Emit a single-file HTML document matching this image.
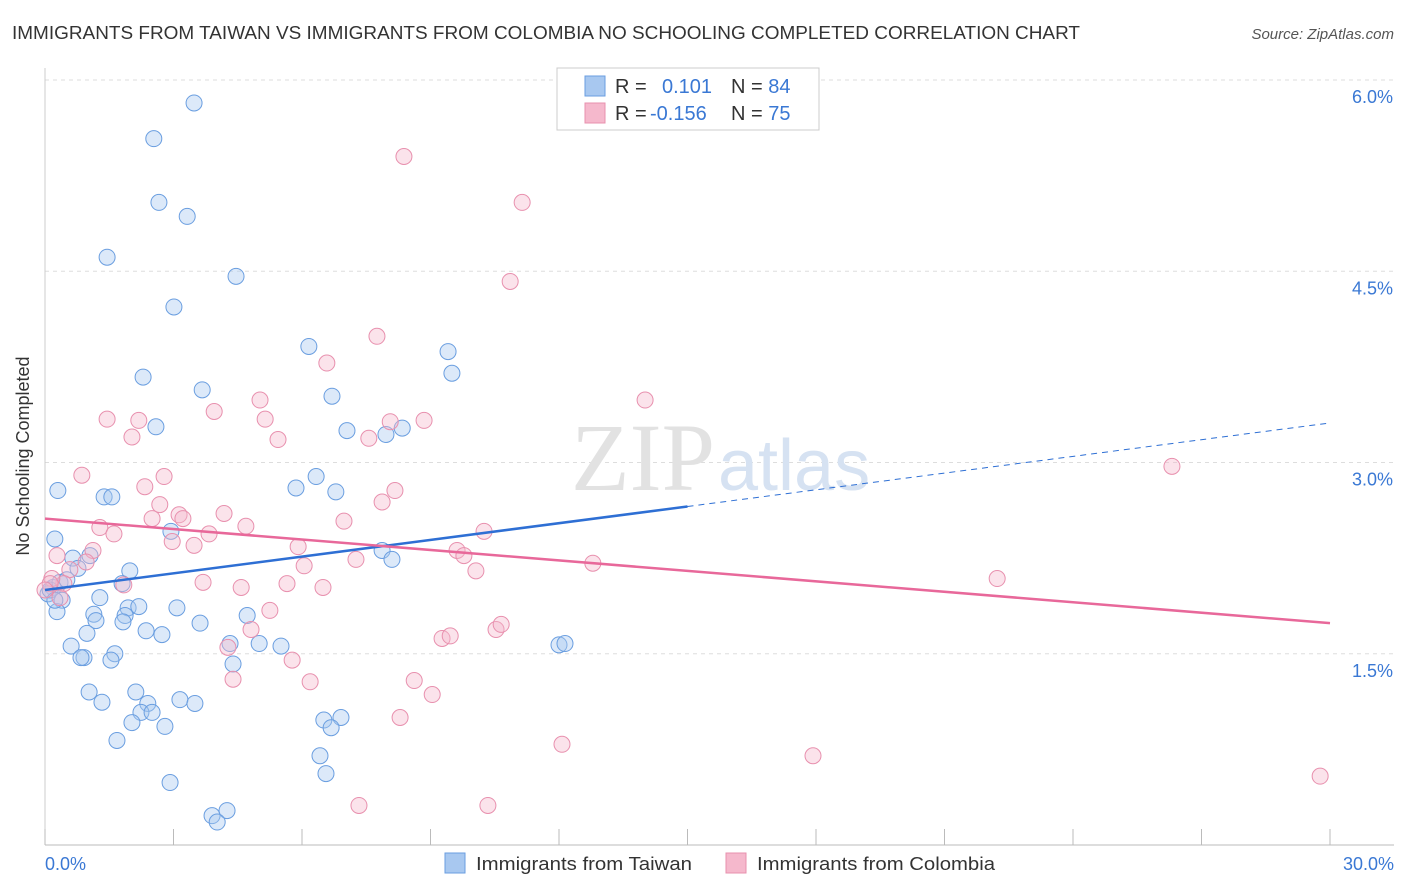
<!DOCTYPE html>
<html><head><meta charset="utf-8"><style>
body{margin:0;background:#fff;font-family:"Liberation Sans",sans-serif;}
#wrap{position:relative;width:1406px;height:892px;overflow:hidden;}
</style></head><body>
<div id="wrap">
<svg id="chart" width="1406" height="892" xmlns="http://www.w3.org/2000/svg">
<text x="12" y="39" font-size="18" fill="#333" textLength="1068" lengthAdjust="spacingAndGlyphs">IMMIGRANTS FROM TAIWAN VS IMMIGRANTS FROM COLOMBIA NO SCHOOLING COMPLETED CORRELATION CHART</text>
<text x="1394" y="39" font-size="15" fill="#555" font-style="italic" text-anchor="end">Source: ZipAtlas.com</text>
<g id="grid"></g>
<g id="axes"></g>
<text x="715" y="490" font-size="96" fill="#e2e2e2" text-anchor="end" font-family="Liberation Serif">ZIP</text>
<text x="718" y="490" font-size="72" fill="#d6e2f2">atlas</text>
<g id="pts"></g>
<g id="lines"></g>
<text x="29" y="456" font-size="18" fill="#333" text-anchor="middle" transform="rotate(-90 29 456)">No Schooling Completed</text>
<g>
<rect x="557" y="68" width="262" height="62" fill="#fff" stroke="#ccc"/>
<rect x="585" y="76" width="20" height="20" fill="#a8c8f0" stroke="#6a9ee0"/>
<rect x="585" y="103" width="20" height="20" fill="#f5b8cc" stroke="#e890ae"/>
<text x="615" y="93" font-size="20" fill="#333">R = <tspan fill="#3a78d4" x="662">0.101</tspan><tspan x="731">N = </tspan><tspan fill="#3a78d4">84</tspan></text>
<text x="615" y="120" font-size="20" fill="#333">R = <tspan fill="#3a78d4" x="650">-0.156</tspan><tspan x="731">N = </tspan><tspan fill="#3a78d4">75</tspan></text>
</g>
<g>
<rect x="445" y="853" width="20" height="20" fill="#a8c8f0" stroke="#6a9ee0"/>
<text x="476" y="870" font-size="18" fill="#333" textLength="216" lengthAdjust="spacingAndGlyphs">Immigrants from Taiwan</text>
<rect x="726" y="853" width="20" height="20" fill="#f5b8cc" stroke="#e890ae"/>
<text x="757" y="870" font-size="18" fill="#333" textLength="238" lengthAdjust="spacingAndGlyphs">Immigrants from Colombia</text>
</g>
</svg>
</div>
<script>
const yTicks=[1.5,3.0,4.5,6.0];
const yTickLabels=["1.5%","3.0%","4.5%","6.0%"];
const xTickCount=11;
const xEndLabels=["0.0%","30.0%"];
const taiwanX=[3.48,2.54,2.66,3.32,1.45,4.46,3.01,6.16,9.41,9.50,2.29,3.67,6.70,2.59,7.05,7.96,8.34,0.30,6.33,5.86,6.79,1.38,1.56,2.94,0.23,7.87,8.10,0.65,1.05,0.77,1.98,1.80,0.19,0.07,0.40,0.28,1.28,1.94,2.19,3.08,1.14,1.87,1.19,1.82,0.98,2.36,2.73,3.62,4.72,0.61,0.91,0.84,1.63,1.54,4.32,5.00,5.51,12.0,12.14,4.39,1.03,1.33,2.12,2.40,3.15,3.50,2.24,2.50,2.03,2.80,6.51,6.91,6.68,1.68,6.42,6.56,2.92,3.90,4.25,4.02,0.12,0.35,0.51,0.23];
const taiwanY=[5.82,5.54,5.04,4.93,4.61,4.46,4.22,3.91,3.87,3.70,3.67,3.57,3.52,3.28,3.25,3.22,3.27,2.78,2.89,2.80,2.77,2.73,2.73,2.46,2.40,2.31,2.24,2.25,2.27,2.17,2.15,2.05,2.02,1.97,1.92,1.83,1.94,1.86,1.87,1.86,1.81,1.80,1.76,1.75,1.66,1.68,1.65,1.74,1.80,1.56,1.47,1.47,1.50,1.45,1.58,1.58,1.56,1.57,1.58,1.42,1.20,1.12,1.20,1.11,1.14,1.11,1.04,1.04,0.96,0.93,0.98,1.00,0.92,0.82,0.70,0.56,0.49,0.23,0.27,0.18,2.00,2.06,2.08,1.92];
const colombiaX=[8.38,11.14,10.86,7.75,6.58,14.01,1.45,2.19,3.95,5.02,5.14,8.06,8.85,2.03,5.44,7.56,0.86,2.78,2.33,8.17,7.87,2.68,2.50,3.13,3.22,4.18,6.98,1.28,1.61,2.97,3.83,4.69,10.25,1.12,5.91,9.62,9.78,3.48,0.96,6.05,7.26,10.06,12.79,26.31,22.23,0.58,0.44,1.84,3.69,4.58,5.65,6.49,0.16,0.35,5.25,4.81,9.27,9.46,10.53,10.65,4.27,5.77,4.39,6.19,8.62,9.04,8.29,12.07,17.93,29.77,7.33,10.34,0.12,0.28,0.0];
const colombiaY=[5.40,5.04,4.42,3.99,3.78,3.49,3.34,3.33,3.40,3.49,3.34,3.32,3.33,3.20,3.18,3.19,2.90,2.89,2.81,2.78,2.69,2.67,2.56,2.59,2.56,2.60,2.54,2.49,2.44,2.38,2.44,2.50,2.46,2.31,2.34,2.31,2.27,2.35,2.22,2.19,2.24,2.15,2.21,2.97,2.09,2.16,2.05,2.04,2.06,2.02,2.05,2.02,2.09,1.94,1.84,1.69,1.62,1.64,1.69,1.73,1.55,1.45,1.30,1.28,1.29,1.18,1.00,0.79,0.70,0.54,0.31,0.31,2.05,2.27,2.00];
const taiwanTrend=[2.0,3.31];
const taiwanSolidEnd=15;
const colombiaTrend=[2.56,1.74];

const NS="http://www.w3.org/2000/svg";
const X0=45,X1=1330,Y0=845,PPU=127.5;
function sx(v){return X0+(v/30)*(X1-X0);}
function sy(v){return Y0-v*PPU;}
function mk(tag,attrs,parent){const e=document.createElementNS(NS,tag);for(const k in attrs)e.setAttribute(k,attrs[k]);parent.appendChild(e);return e;}
const grid=document.getElementById('grid'),axes=document.getElementById('axes'),pts=document.getElementById('pts'),lines=document.getElementById('lines');
yTicks.forEach((t,i)=>{
  const l=mk('line',{x1:X0,x2:1394,y1:sy(t),y2:sy(t),stroke:'#ddd','stroke-dasharray':'4,4'},grid);
  
  
  const tx=mk('text',{x:1393,y:sy(t)+23,'font-size':18,fill:'#3a78d4','text-anchor':'end'},axes);
  tx.textContent=yTickLabels[i];
  
  
});
const ax=mk('line',{x1:X0,x2:1394,y1:Y0,y2:Y0,stroke:'#bbb'},axes);


const ay=mk('line',{x1:X0,x2:X0,y1:68,y2:Y0,stroke:'#ccc'},axes);


for(let i=0;i<xTickCount;i++){
  const xx=sx(i*30/(xTickCount-1));
  const t=mk('line',{x1:xx,x2:xx,y1:Y0,y2:Y0-16,stroke:'#bbb'},axes);
  
  
}
[[0,'start',45],[30,'end',1394]].forEach((d,i)=>{
  const tx=mk('text',{x:d[2],y:870,'font-size':18,fill:'#3a78d4','text-anchor':d[1]},axes);
  tx.textContent=xEndLabels[i];
  
  
});
function drawPts(xs,ys,fill,stroke,name){
  xs.forEach((v,i)=>{
    const c=mk('circle',{cx:sx(v),cy:sy(ys[i]),r:8,fill:fill,'fill-opacity':0.4,stroke:stroke,'stroke-width':1},pts);
    
    
  });
}
drawPts(taiwanX,taiwanY,'#a8c8f0','#6a9ee0','taiwan-point');
drawPts(colombiaX,colombiaY,'#f5b8cc','#e890ae','colombia-point');
function ty(tr,x){return tr[0]+(tr[1]-tr[0])*x/30;}
const l1=mk('line',{x1:sx(0),y1:sy(ty(taiwanTrend,0)),x2:sx(taiwanSolidEnd),y2:sy(ty(taiwanTrend,taiwanSolidEnd)),stroke:'#2e6fd4','stroke-width':2.5},lines);


const l2=mk('line',{x1:sx(taiwanSolidEnd),y1:sy(ty(taiwanTrend,taiwanSolidEnd)),x2:sx(30),y2:sy(ty(taiwanTrend,30)),stroke:'#2e6fd4','stroke-width':1,'stroke-dasharray':'6,5'},lines);


const l3=mk('line',{x1:sx(0),y1:sy(colombiaTrend[0]),x2:sx(30),y2:sy(colombiaTrend[1]),stroke:'#e8689a','stroke-width':2.5},lines);


</script>
</body></html>
